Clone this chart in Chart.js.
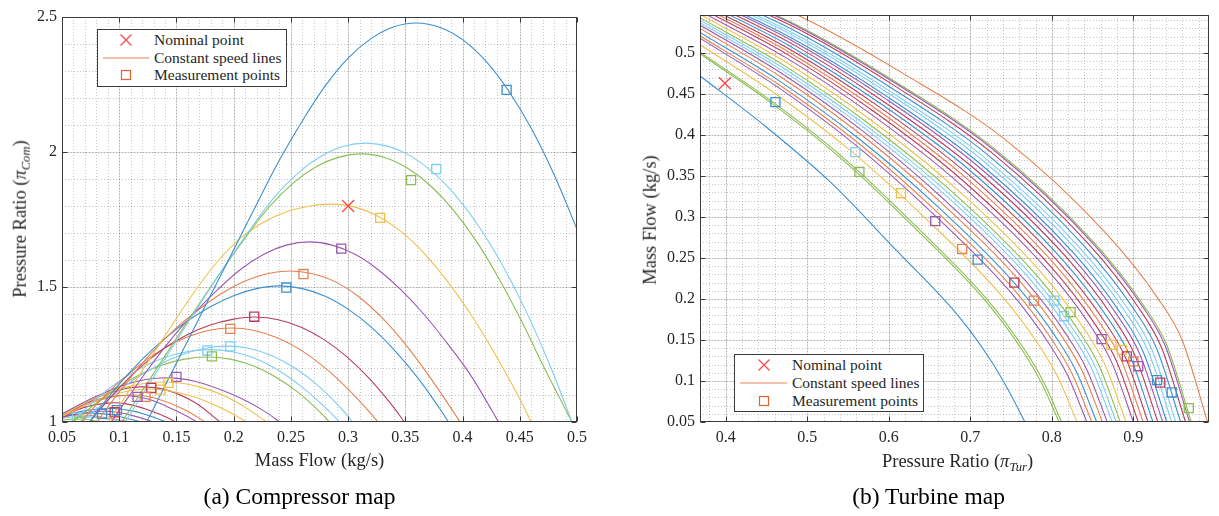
<!DOCTYPE html>
<html><head><meta charset="utf-8">
<script src="https://cdn.jsdelivr.net/npm/chart.js@4.4.1/dist/chart.umd.min.js"></script>
<style>
html,body{margin:0;padding:0;background:#fff}
body{width:1219px;height:516px;position:relative;overflow:hidden;font-family:"Liberation Serif","Times New Roman",serif;color:#262626}
canvas{position:absolute;top:0}
#compCanvas{left:0}
#turbCanvas{left:620px}
.t{position:absolute;white-space:nowrap;transform:translate(-50%,-50%);font-size:18.5px;line-height:1}
.rot{transform:translate(-50%,-50%) rotate(-90deg)}
.cap{font-size:23.5px;color:#000}
.leg{position:absolute;border:1px solid #3a3a3a;background:#fff;box-sizing:border-box;width:190px;height:58px}
.leg svg{position:absolute;left:0;top:0}
.leg span{position:absolute;font-size:15.5px;line-height:1;transform:translateY(-50%);white-space:nowrap;color:#262626}
sub{font-size:0.68em;vertical-align:-0.3em;line-height:0}
</style></head>
<body>
<canvas id="compCanvas" width="600" height="455"></canvas>
<canvas id="turbCanvas" width="599" height="455"></canvas>

<div class="t" style="left:319.5px;top:460px">Mass Flow (kg/s)</div>
<div class="t rot" style="left:20px;top:219px">Pressure Ratio (<i>π</i><sub><i>Com</i></sub>)</div>
<div class="t" style="left:957.5px;top:461px">Pressure Ratio (<i>π</i><sub><i>Tur</i></sub>)</div>
<div class="t rot" style="left:650px;top:220px">Mass Flow (kg/s)</div>
<div class="t cap" style="left:299.5px;top:497px">(a) Compressor map</div>
<div class="t cap" style="left:928.5px;top:497px">(b) Turbine map</div>

<div class="leg" style="left:97px;top:29px">
  <svg width="190" height="58"><g fill="none" stroke-width="1.2">
    <path d="M22.5 4.5 L33.5 15.5 M22.5 15.5 L33.5 4.5" stroke="#ff4545"/>
    <path d="M5 28 L51 28" stroke="#e8845a"/>
    <rect x="23.5" y="40.5" width="9" height="9" stroke="#e0622e"/>
  </g></svg>
  <span style="left:56px;top:10px">Nominal point</span>
  <span style="left:56px;top:28px">Constant speed lines</span>
  <span style="left:56px;top:45px">Measurement points</span>
</div>
<div class="leg" style="left:734px;top:354px">
  <svg width="190" height="58"><g fill="none" stroke-width="1.2">
    <path d="M23.5 4.5 L34.5 15.5 M23.5 15.5 L34.5 4.5" stroke="#ff4545"/>
    <path d="M5 28 L52 28" stroke="#e8845a"/>
    <rect x="24.5" y="41.5" width="9" height="9" stroke="#e0622e"/>
  </g></svg>
  <span style="left:57px;top:10px">Nominal point</span>
  <span style="left:57px;top:28px">Constant speed lines</span>
  <span style="left:57px;top:46px">Measurement points</span>
</div>

<script>
// ---------------- DATA ----------------
const COMP_X_TICKS = [0.05,0.1,0.15,0.2,0.25,0.3,0.35,0.4,0.45,0.5];
const COMP_X_LABELS = ['0.05','0.1','0.15','0.2','0.25','0.3','0.35','0.4','0.45','0.5'];
const COMP_Y_TICKS = [1,1.5,2,2.5];
const COMP_Y_LABELS = ['1','1.5','2','2.5'];
const TURB_X_TICKS = [0.4,0.5,0.6,0.7,0.8,0.9];
const TURB_X_LABELS = ['0.4','0.5','0.6','0.7','0.8','0.9'];
const TURB_Y_TICKS = [0.05,0.1,0.15,0.2,0.25,0.3,0.35,0.4,0.45,0.5];
const TURB_Y_LABELS = ['0.05','0.1','0.15','0.2','0.25','0.3','0.35','0.4','0.45','0.5'];

// Compressor constant speed lines: [mass flow, pressure ratio]
const compSpeedLines = [
  [[0.117,0.94],[0.124,1.0],[0.16,1.302],[0.2,1.638],[0.22,1.806],[0.24,1.97],[0.26,2.115],[0.28,2.245],[0.30,2.348],[0.32,2.42],[0.34,2.464],[0.36,2.478],[0.38,2.462],[0.40,2.416],[0.42,2.338],[0.44,2.228],[0.46,2.088],[0.48,1.916],[0.50,1.714]],
  [[0.1,0.966],[0.116,1.073],[0.136,1.207],[0.156,1.341],[0.176,1.473],[0.196,1.601],[0.216,1.723],[0.236,1.835],[0.256,1.921],[0.276,1.983],[0.296,2.021],[0.316,2.033],[0.336,2.02],[0.356,1.982],[0.376,1.918],[0.396,1.828],[0.416,1.713],[0.436,1.572],[0.456,1.406],[0.476,1.214],[0.496,0.996],[0.5,0.95]],
  [[0.095,0.953],[0.112,1.063],[0.132,1.193],[0.152,1.323],[0.172,1.451],[0.192,1.575],[0.212,1.693],[0.232,1.801],[0.252,1.885],[0.272,1.945],[0.292,1.981],[0.312,1.993],[0.332,1.98],[0.352,1.94],[0.372,1.875],[0.392,1.785],[0.412,1.67],[0.432,1.53],[0.452,1.37],[0.472,1.195],[0.492,1.03],[0.5,0.96]],
  [[0.085,0.965],[0.09,0.995],[0.107,1.105],[0.127,1.235],[0.147,1.365],[0.167,1.49],[0.187,1.6],[0.207,1.685],[0.227,1.742],[0.247,1.78],[0.267,1.8],[0.287,1.807],[0.307,1.795],[0.327,1.76],[0.347,1.703],[0.367,1.622],[0.387,1.52],[0.407,1.4],[0.427,1.262],[0.447,1.11],[0.46,1.0],[0.465,0.955]],
  [[0.09,0.98],[0.106,1.08],[0.126,1.2],[0.146,1.31],[0.166,1.405],[0.186,1.49],[0.206,1.565],[0.226,1.62],[0.246,1.655],[0.266,1.667],[0.286,1.655],[0.306,1.621],[0.326,1.565],[0.346,1.49],[0.366,1.4],[0.386,1.295],[0.406,1.18],[0.426,1.04],[0.432,0.995]],
  [[0.075,0.965],[0.08,0.995],[0.089,1.05],[0.109,1.16],[0.129,1.26],[0.149,1.345],[0.169,1.415],[0.189,1.475],[0.209,1.52],[0.229,1.549],[0.249,1.559],[0.269,1.549],[0.289,1.519],[0.309,1.465],[0.329,1.389],[0.349,1.293],[0.369,1.181],[0.389,1.057],[0.398,0.999],[0.404,0.96]],
  [[0.07,0.975],[0.08,1.035],[0.1,1.14],[0.12,1.232],[0.14,1.31],[0.16,1.375],[0.18,1.428],[0.2,1.468],[0.22,1.494],[0.24,1.504],[0.26,1.494],[0.28,1.466],[0.3,1.418],[0.32,1.352],[0.34,1.268],[0.36,1.168],[0.38,1.05],[0.388,0.998],[0.393,0.965]],
  [[0.07,0.975],[0.079,1.025],[0.099,1.122],[0.119,1.205],[0.139,1.272],[0.159,1.322],[0.179,1.358],[0.199,1.38],[0.219,1.389],[0.239,1.379],[0.259,1.351],[0.279,1.305],[0.299,1.241],[0.319,1.159],[0.339,1.059],[0.349,1.0],[0.353,0.975]],
  [[0.063,0.978],[0.068,1.005],[0.078,1.055],[0.098,1.14],[0.118,1.212],[0.138,1.27],[0.158,1.312],[0.178,1.339],[0.198,1.348],[0.218,1.339],[0.238,1.312],[0.258,1.268],[0.278,1.207],[0.298,1.13],[0.318,1.04],[0.327,0.995],[0.332,0.968]],
  [[0.062,0.975],[0.066,0.995],[0.074,1.025],[0.094,1.097],[0.114,1.16],[0.134,1.21],[0.154,1.248],[0.174,1.272],[0.194,1.281],[0.214,1.272],[0.234,1.244],[0.254,1.198],[0.274,1.134],[0.294,1.05],[0.303,1.005],[0.308,0.98]],
  [[0.052,0.97],[0.059,1.0],[0.079,1.082],[0.099,1.148],[0.119,1.2],[0.139,1.238],[0.159,1.26],[0.179,1.268],[0.199,1.26],[0.219,1.235],[0.239,1.192],[0.259,1.132],[0.279,1.058],[0.293,0.998],[0.298,0.975]],
  [[0.05,0.963],[0.057,0.99],[0.077,1.06],[0.097,1.122],[0.117,1.173],[0.137,1.21],[0.157,1.233],[0.177,1.241],[0.197,1.233],[0.217,1.208],[0.237,1.166],[0.257,1.108],[0.277,1.03],[0.284,0.998],[0.288,0.98]],
  [[0.05,1.03],[0.08,1.095],[0.11,1.145],[0.136,1.163],[0.165,1.152],[0.2,1.1],[0.225,1.045],[0.24,1.0],[0.245,0.98]],
  [[0.05,1.025],[0.08,1.09],[0.11,1.133],[0.14,1.148],[0.17,1.13],[0.2,1.08],[0.229,1.0],[0.233,0.985]],
  [[0.05,1.02],[0.08,1.08],[0.105,1.112],[0.128,1.122],[0.16,1.1],[0.19,1.05],[0.211,1.0],[0.215,0.985]],
  [[0.05,1.015],[0.075,1.08],[0.1,1.118],[0.118,1.13],[0.14,1.12],[0.165,1.075],[0.188,1.0],[0.192,0.985]],
  [[0.05,1.02],[0.075,1.07],[0.095,1.094],[0.11,1.1],[0.13,1.09],[0.155,1.05],[0.175,1.0],[0.179,0.985]],
  [[0.05,1.025],[0.07,1.068],[0.09,1.092],[0.105,1.098],[0.125,1.085],[0.148,1.045],[0.168,1.0],[0.172,0.985]],
  [[0.05,1.02],[0.07,1.055],[0.09,1.07],[0.105,1.068],[0.125,1.045],[0.145,1.01],[0.152,0.99]],
  [[0.05,1.02],[0.07,1.042],[0.092,1.05],[0.11,1.042],[0.125,1.025],[0.141,1.0],[0.145,0.993]],
  [[0.05,1.018],[0.07,1.035],[0.085,1.04],[0.1,1.035],[0.115,1.02],[0.13,1.0],[0.134,0.993]],
  [[0.05,1.024],[0.075,1.033],[0.095,1.025],[0.11,1.01],[0.12,1.0],[0.124,0.995]],
  [[0.05,1.015],[0.07,1.02],[0.09,1.01],[0.105,1.0],[0.11,0.995]],
  [[0.05,1.008],[0.068,1.01],[0.085,1.0],[0.09,0.996]],
  [[0.05,1.02],[0.068,1.026],[0.09,1.015],[0.11,1.0],[0.115,0.996]]
];
const compLineColors = ['b','lb','g','y','p','o','b','dr','o','lb','lb','g','p','y','y','dr','o','p','dr','b','p','b','lb','g','o'];

const compMeasX = [0.4385,0.377,0.355,0.328,0.294,0.261,0.246,0.218,0.197,0.197,0.177,0.181,0.150,0.143,0.136,0.128,0.123,0.116,0.098,0.096,0.085,0.063,0.065];
const compMeasY = [2.23,1.937,1.896,1.756,1.642,1.548,1.498,1.39,1.345,1.28,1.265,1.243,1.167,1.145,1.12,1.126,1.093,1.093,1.044,1.036,1.03,1.015,1.0];
const compMeasC = ['b','lb','g','y','p','o','b','dr','o','lb','lb','g','p','y','y','dr','o','p','b','dr','b','lb','g'];
const compNominal = [0.300, 1.80];

// Turbine constant speed lines: [pressure ratio, mass flow]
const turbSpeedLines = [
  [[0.3685,0.472],[0.4482,0.411],[0.5279,0.343],[0.6076,0.261],[0.6873,0.177],[0.7272,0.122],[0.7471,0.088],[0.767,0.05]],
  [[0.3685,0.499],[0.4566,0.4386],[0.5447,0.3688],[0.6328,0.2857],[0.7209,0.195],[0.765,0.1356],[0.787,0.0982],[0.809,0.05]],
  [[0.3685,0.501],[0.4572,0.4406],[0.5459,0.3708],[0.6346,0.2875],[0.7233,0.1963],[0.7677,0.1366],[0.7898,0.099],[0.812,0.05]],
  [[0.3685,0.51],[0.461,0.4503],[0.5535,0.3806],[0.646,0.2975],[0.7385,0.204],[0.7848,0.1426],[0.8079,0.1036],[0.831,0.05]],
  [[0.3685,0.518],[0.4634,0.4586],[0.5583,0.3885],[0.6532,0.3051],[0.7481,0.2098],[0.7956,0.147],[0.8193,0.1069],[0.843,0.05]],
  [[0.3685,0.521],[0.4646,0.4618],[0.5607,0.3917],[0.6568,0.3084],[0.7529,0.2124],[0.801,0.1491],[0.825,0.1084],[0.849,0.05]],
  [[0.3685,0.525],[0.4658,0.466],[0.5631,0.3957],[0.6604,0.3123],[0.7577,0.2153],[0.8064,0.1513],[0.8307,0.1101],[0.855,0.05]],
  [[0.3685,0.53],[0.4672,0.4711],[0.5659,0.4006],[0.6646,0.3171],[0.7633,0.2188],[0.8127,0.154],[0.8373,0.1121],[0.862,0.05]],
  [[0.3685,0.534],[0.4684,0.4752],[0.5683,0.4047],[0.6682,0.321],[0.7681,0.2218],[0.8181,0.1563],[0.843,0.1138],[0.868,0.05]],
  [[0.3685,0.537],[0.4696,0.4785],[0.5707,0.408],[0.6718,0.3245],[0.7729,0.2245],[0.8235,0.1584],[0.8487,0.1155],[0.874,0.05]],
  [[0.3685,0.54],[0.4706,0.4817],[0.5727,0.4111],[0.6748,0.3276],[0.7769,0.2269],[0.828,0.1603],[0.8535,0.1169],[0.879,0.05]],
  [[0.3685,0.543],[0.4716,0.4849],[0.5747,0.4143],[0.6778,0.3307],[0.7809,0.2293],[0.8325,0.1621],[0.8582,0.1183],[0.884,0.05]],
  [[0.3685,0.547],[0.473,0.4892],[0.5775,0.4186],[0.682,0.3351],[0.7865,0.2327],[0.8388,0.1648],[0.8649,0.1203],[0.891,0.05]],
  [[0.3685,0.551],[0.4748,0.4937],[0.5811,0.4233],[0.6874,0.3401],[0.7937,0.2366],[0.8469,0.1679],[0.8734,0.1227],[0.9,0.05]],
  [[0.3685,0.555],[0.476,0.498],[0.5835,0.4274],[0.691,0.3442],[0.7985,0.2398],[0.8523,0.1703],[0.8791,0.1246],[0.906,0.05]],
  [[0.3685,0.558],[0.4772,0.5013],[0.5859,0.4308],[0.6946,0.3477],[0.8033,0.2425],[0.8577,0.1725],[0.8848,0.1263],[0.912,0.05]],
  [[0.3685,0.561],[0.4784,0.5046],[0.5883,0.4343],[0.6982,0.3513],[0.8081,0.2453],[0.8631,0.1747],[0.8906,0.128],[0.918,0.05]],
  [[0.3685,0.564],[0.4796,0.508],[0.5907,0.4377],[0.7018,0.3549],[0.8129,0.2481],[0.8685,0.177],[0.8962,0.1298],[0.924,0.05]],
  [[0.3685,0.567],[0.4808,0.5114],[0.5931,0.4412],[0.7054,0.3585],[0.8177,0.251],[0.8739,0.1793],[0.9019,0.1315],[0.93,0.05]],
  [[0.3685,0.57],[0.482,0.5147],[0.5955,0.4446],[0.709,0.3622],[0.8225,0.2538],[0.8793,0.1815],[0.9076,0.1333],[0.936,0.05]],
  [[0.3685,0.572],[0.483,0.5171],[0.5975,0.4471],[0.712,0.3649],[0.8265,0.2561],[0.8838,0.1834],[0.9124,0.1347],[0.941,0.05]],
  [[0.3685,0.575],[0.4842,0.5205],[0.5999,0.4506],[0.7156,0.3686],[0.8313,0.259],[0.8892,0.1857],[0.9181,0.1365],[0.947,0.05]],
  [[0.3685,0.577],[0.4852,0.5229],[0.6019,0.4532],[0.7186,0.3714],[0.8353,0.2612],[0.8937,0.1875],[0.9229,0.1379],[0.952,0.05]],
  [[0.3685,0.58],[0.4864,0.5263],[0.6043,0.4567],[0.7222,0.3751],[0.8401,0.2642],[0.8991,0.1898],[0.9285,0.1397],[0.958,0.05]],
  [[0.3685,0.583],[0.4876,0.5297],[0.6067,0.4602],[0.7258,0.3788],[0.8449,0.2671],[0.9045,0.1921],[0.9342,0.1415],[0.964,0.05]],
  [[0.3685,0.585],[0.4886,0.5321],[0.6087,0.4628],[0.7288,0.3817],[0.8489,0.2694],[0.909,0.194],[0.939,0.143],[0.969,0.05]],
  [[0.3685,0.586],[0.489,0.5332],[0.6095,0.464],[0.73,0.383],[0.8505,0.2703],[0.9108,0.1948],[0.941,0.1436],[0.971,0.05]],
  [[0.3685,0.595],[0.493,0.5438],[0.6175,0.4751],[0.742,0.395],[0.8665,0.28],[0.9288,0.2026],[0.9599,0.1497],[0.991,0.05]]
];
const turbLineColors = ['b','g','g','y','p','o','b','o','p','lb','lb','g','y','p','dr','o','dr','b','dr','p','b','lb','lb','b','dr','p','g','o'];

const turbMeasX = [0.461,0.559,0.564,0.615,0.657,0.690,0.709,0.754,0.778,0.803,0.815,0.823,0.861,0.873,0.886,0.892,0.900,0.906,0.929,0.933,0.947,0.968];
const turbMeasY = [0.440,0.379,0.355,0.329,0.295,0.261,0.248,0.220,0.198,0.198,0.179,0.184,0.151,0.144,0.138,0.130,0.124,0.118,0.101,0.098,0.086,0.067];
const turbMeasC = ['b','lb','g','y','p','o','b','dr','o','lb','lb','g','p','y','y','dr','o','p','b','dr','b','g'];
const turbNominal = [0.399, 0.463];

// ---------------- STYLE ----------------
const COL = {b:'#3b8fd0', o:'#e5804f', y:'#f1c04c', p:'#9b59b0', g:'#8cbd52', lb:'#7fcdf2', dr:'#b83d5c'};
const FONT = {family:'Liberation Serif', size:16};

const matlabGrid = {
  id:'matlabGrid',
  beforeDatasetsDraw(chart){
    const g = chart.options.plugins.matlabGrid; if(!g) return;
    const {ctx, chartArea:a, scales:{x,y}} = chart;
    ctx.save();
    ctx.lineWidth = 1;
    ctx.setLineDash([1,2]);
    ctx.strokeStyle = 'rgba(0,0,0,0.22)';
    for(let k=Math.ceil(x.min/g.xMinor-1e-6); k*g.xMinor<=x.max+1e-9; k++){
      const p = Math.round(x.getPixelForValue(k*g.xMinor))+0.5;
      if(p<=a.left+1||p>=a.right-1) continue;
      ctx.beginPath(); ctx.moveTo(p,a.top); ctx.lineTo(p,a.bottom); ctx.stroke();
    }
    for(let k=Math.ceil(y.min/g.yMinor-1e-6); k*g.yMinor<=y.max+1e-9; k++){
      const p = Math.round(y.getPixelForValue(k*g.yMinor))+0.5;
      if(p<=a.top+1||p>=a.bottom-1) continue;
      ctx.beginPath(); ctx.moveTo(a.left,p); ctx.lineTo(a.right,p); ctx.stroke();
    }
    ctx.setLineDash([]);
    ctx.strokeStyle = 'rgba(0,0,0,0.12)';
    x.ticks.forEach(t=>{const p=Math.round(x.getPixelForValue(t.value))+0.5;
      if(p<=a.left+1||p>=a.right-1) return;
      ctx.beginPath(); ctx.moveTo(p,a.top); ctx.lineTo(p,a.bottom); ctx.stroke();});
    y.ticks.forEach(t=>{const p=Math.round(y.getPixelForValue(t.value))+0.5;
      if(p<=a.top+1||p>=a.bottom-1) return;
      ctx.beginPath(); ctx.moveTo(a.left,p); ctx.lineTo(a.right,p); ctx.stroke();});
    ctx.restore();
  },
  afterDatasetsDraw(chart){
    const g = chart.options.plugins.matlabGrid; if(!g) return;
    const {ctx, chartArea:a, scales:{x,y}} = chart;
    ctx.save();
    ctx.strokeStyle = '#3a3a3a'; ctx.lineWidth = 1;
    const L=Math.round(a.left)+0.5, R=Math.round(a.right)-0.5, T=Math.round(a.top)+0.5, B=Math.round(a.bottom)-0.5;
    ctx.strokeRect(L,T,R-L,B-T);
    const tl=5;
    x.ticks.forEach(t=>{const p=Math.round(x.getPixelForValue(t.value))+0.5;
      ctx.beginPath(); ctx.moveTo(p,B); ctx.lineTo(p,B-tl); ctx.moveTo(p,T); ctx.lineTo(p,T+tl); ctx.stroke();});
    y.ticks.forEach(t=>{const p=Math.round(y.getPixelForValue(t.value))+0.5;
      ctx.beginPath(); ctx.moveTo(L,p); ctx.lineTo(L+tl,p); ctx.moveTo(R,p); ctx.lineTo(R-tl,p); ctx.stroke();});
    ctx.restore();
  }
};

function makeMap(id, cfg){
  const datasets = [];
  datasets.push({
    data:[{x:cfg.nominal[0], y:cfg.nominal[1]}], showLine:false,
    pointStyle:'crossRot', pointRadius:8.5, pointBorderColor:'#ff4545', pointBorderWidth:1.3,
    pointBackgroundColor:'rgba(0,0,0,0)', order:0
  });
  datasets.push({
    data: cfg.measX.map((x,i)=>({x, y:cfg.measY[i]})), showLine:false,
    pointStyle:'rect', pointRadius:6.4, pointBorderWidth:1.3,
    pointBorderColor: cfg.measC.map(c=>COL[c]), pointBackgroundColor:'rgba(0,0,0,0)', order:0
  });
  cfg.lines.forEach((pts,i)=>{
    datasets.push({
      data: pts.map(p=>({x:p[0], y:p[1]})), borderColor: COL[cfg.colors[i]], borderWidth:1.1,
      pointRadius:0, tension:cfg.tension, cubicInterpolationMode:cfg.interp, fill:false, order:1
    });
  });
  return new Chart(document.getElementById(id), {
    type:'line',
    data:{datasets},
    plugins:[matlabGrid],
    options:{
      responsive:false, maintainAspectRatio:false, animation:false, events:[],
      layout:{padding:{top:cfg.padTop, right:cfg.padRight, left:0, bottom:0}},
      plugins:{legend:{display:false}, tooltip:{enabled:false}, matlabGrid:{xMinor:cfg.xMinor, yMinor:cfg.yMinor}},
      scales:{
        x:{type:'linear', min:cfg.xMin, max:cfg.xMax,
          grid:{display:false, drawTicks:false}, border:{display:false},
          afterBuildTicks(s){ s.ticks = cfg.xTicks.map(v=>({value:v})); },
          afterFit(s){ s.height = cfg.xHeight; },
          ticks:{padding:6, color:'#262626', font:FONT, maxRotation:0, autoSkip:false,
            callback:(v,i)=>cfg.xLabels[i]}},
        y:{type:'linear', min:cfg.yMin, max:cfg.yMax,
          grid:{display:false, drawTicks:false}, border:{display:false},
          afterBuildTicks(s){ s.ticks = cfg.yTicks.map(v=>({value:v})); },
          afterFit(s){ s.width = cfg.yWidth; },
          ticks:{padding:5, color:'#262626', font:FONT, autoSkip:false,
            callback:(v,i)=>cfg.yLabels[i]}}
      }
    }
  });
}

makeMap('compCanvas', {
  lines:compSpeedLines, colors:compLineColors,
  measX:compMeasX, measY:compMeasY, measC:compMeasC, nominal:compNominal,
  xMin:0.05, xMax:0.5, yMin:1, yMax:2.5,
  xTicks:COMP_X_TICKS, xLabels:COMP_X_LABELS, yTicks:COMP_Y_TICKS, yLabels:COMP_Y_LABELS,
  xMinor:0.01, yMinor:0.1, padTop:17, padRight:23, yWidth:62, xHeight:33,
  tension:0.4, interp:'default'
});
makeMap('turbCanvas', {
  lines:turbSpeedLines, colors:turbLineColors,
  measX:turbMeasX, measY:turbMeasY, measC:turbMeasC, nominal:turbNominal,
  xMin:0.3685, xMax:0.993, yMin:0.05, yMax:0.5463,
  xTicks:TURB_X_TICKS, xLabels:TURB_X_LABELS, yTicks:TURB_Y_TICKS, yLabels:TURB_Y_LABELS,
  xMinor:0.02, yMinor:0.01, padTop:15, padRight:2, yWidth:80, xHeight:33,
  tension:0.4, interp:'monotone'
});
</script>
</body></html>
